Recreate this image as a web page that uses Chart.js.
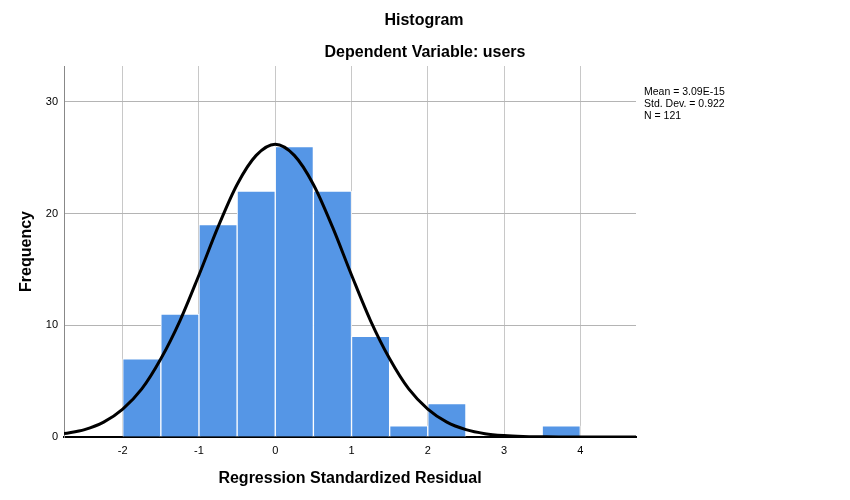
<!DOCTYPE html>
<html>
<head>
<meta charset="utf-8">
<script src="https://cdn.jsdelivr.net/npm/chart.js@4/dist/chart.umd.min.js"></script>
<style>
html,body{margin:0;padding:0;background:#fff;}
#wrap{width:850px;height:500px;position:relative;}
</style>
</head>
<body>
<div id="wrap"><canvas id="c" width="850" height="500"></canvas></div>
<script>
// Histogram bins (bin centres, width 0.5) and counts
const binCenters = [-1.75, -1.25, -0.75, -0.25, 0.25, 0.75, 1.25, 1.75, 2.25, 2.75, 3.25, 3.75];
const binCounts  = [7, 11, 19, 22, 26, 22, 9, 1, 3, 0, 0, 1];
// Normal curve values
const curveX = [-2.77, -2.5, -2.25, -2, -1.75, -1.5, -1.25, -1, -0.75, -0.5, -0.25, 0, 0.25, 0.5, 0.75, 1, 1.25, 1.5, 1.75, 2, 2.25, 2.5, 2.75, 3, 3.25, 3.5, 3.75, 4, 4.25, 4.5, 4.73];
const curveY = [0.3, 0.66, 1.33, 2.5, 4.3, 7.0, 10.4, 14.5, 18.8, 22.6, 25.2, 26.2, 25.2, 22.6, 18.8, 14.5, 10.4, 7.0, 4.3, 2.5, 1.33, 0.66, 0.3, 0.13, 0.05, 0.02, 0.0, 0.0, 0.0, 0.0, 0.0];
const xTicks = [-2, -1, 0, 1, 2, 3, 4];
const yTicks = [0, 10, 20, 30];
const titleText = "Histogram";
const subtitleText = "Dependent Variable: users";
const statsText = ["Mean = 3.09E-15", "Std. Dev. = 0.922", "N = 121"];

const textPlugin = {
  id: 'texts',
  afterDraw(chart) {
    const ctx = chart.ctx;
    ctx.save();
    ctx.fillStyle = '#000';
    ctx.textAlign = 'center';
    ctx.textBaseline = 'middle';
    ctx.font = 'bold 16px "Liberation Sans", Arial, sans-serif';
    ctx.fillText(titleText, 424, 21);
    ctx.fillText(subtitleText, 425, 53);
    ctx.textAlign = 'left';
    ctx.font = '10.5px "Liberation Sans", Arial, sans-serif';
    statsText.forEach((t, i) => ctx.fillText(t, 644, 92.5 + i * 12));
    ctx.restore();
  }
};

new Chart(document.getElementById('c'), {
  type: 'bar',
  data: {
    datasets: [
      {
        type: 'line',
        data: curveX.map((x, i) => ({x: x, y: curveY[i]})),
        borderColor: '#000',
        borderWidth: 3,
        pointRadius: 0,
        cubicInterpolationMode: 'monotone',
        fill: false,
        order: 0
      },
      {
        type: 'bar',
        data: binCenters.map((x, i) => ({x: x, y: binCounts[i]})),
        backgroundColor: '#5596e6',
        borderColor: '#ffffff',
        borderWidth: {left: 1, right: 1, top: 1, bottom: 0},
        borderSkipped: 'bottom',
        barPercentage: 1.0,
        categoryPercentage: 1.0,
        order: 1
      }
    ]
  },
  options: {
    responsive: false,
    animation: false,
    events: [],
    layout: {padding: {left: 17, right: 214, top: 66, bottom: 0}},
    plugins: {legend: {display: false}, tooltip: {enabled: false}, title: {display: false}},
    scales: {
      x: {
        type: 'linear',
        offset: false,
        min: -2.77,
        max: 4.73,
        afterBuildTicks(scale) { scale.ticks = xTicks.map(v => ({value: v})); },
        afterFit(scale) { scale.height = 63; },
        grid: {color: '#c8c8c8', lineWidth: 1, drawTicks: false, offset: false},
        border: {color: '#000', width: 2},
        ticks: {color: '#000', font: {family: '"Liberation Sans", Arial, sans-serif', size: 11}, padding: 7, maxRotation: 0, autoSkip: false},
        title: {display: true, text: 'Regression Standardized Residual', color: '#000', font: {family: '"Liberation Sans", Arial, sans-serif', size: 16, weight: 'bold'}, padding: {top: 3, bottom: 12}}
      },
      y: {
        min: 0,
        max: 33.2,
        afterBuildTicks(scale) { scale.ticks = yTicks.map(v => ({value: v})); },
        afterFit(scale) { scale.width = 47; },
        grid: {color: '#b4b4b4', lineWidth: 1, drawTicks: false},
        border: {color: '#888', width: 1},
        ticks: {color: '#000', font: {family: '"Liberation Sans", Arial, sans-serif', size: 11}, padding: 6},
        title: {display: true, text: 'Frequency', color: '#000', font: {family: '"Liberation Sans", Arial, sans-serif', size: 16, weight: 'bold'}, padding: {top: 0, bottom: 0}}
      }
    }
  },
  plugins: [textPlugin]
});
</script>
</body>
</html>
